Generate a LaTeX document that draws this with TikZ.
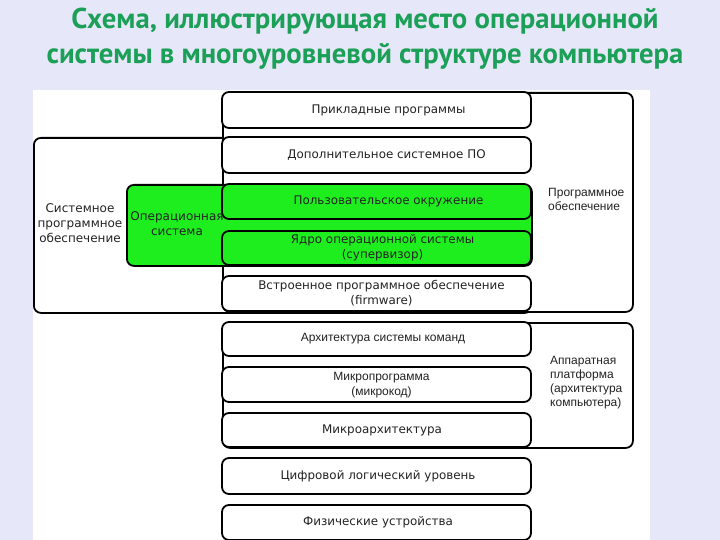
\documentclass[tikz,border=0pt]{standalone}
\usepackage{fontspec}
\setmainfont{DejaVu Sans}
\newfontfamily\titlefont{PT Sans}
\newfontfamily\arialfont{Liberation Sans}
\definecolor{bgcol}{RGB}{230,232,250}
\definecolor{titlecol}{RGB}{28,160,88}
\definecolor{oscol}{RGB}{30,238,30}
\definecolor{txtcol}{RGB}{35,35,35}
\tikzset{
  lvl/.style={draw=black, line width=1.8pt, rounded corners=7pt, fill=white,
    minimum width=309pt, inner sep=0pt, align=center, text=txtcol,
    font=\fontsize{11.9}{15}\selectfont},
  greenlvl/.style={lvl, fill=oscol},
  bigbox/.style={draw=black, line width=1.8pt, rounded corners=7pt, inner sep=0pt},
  lbl/.style={text=txtcol, inner sep=0pt, align=center, font=\fontsize{12}{15}\selectfont},
  rlbl/.style={text=txtcol, inner sep=0pt, align=left, font=\arialfont\fontsize{12}{14}\selectfont},
  tline/.style={text=titlecol, inner sep=0pt, font=\titlefont\bfseries\fontsize{28.7}{35}\selectfont}
}
\begin{document}
\begin{tikzpicture}[x=1pt,y=-1pt]
\useasboundingbox (0,0) rectangle (720,540);
\fill[bgcol] (0,0) rectangle (720,540);
\fill[white] (33,90) rectangle (650,540);
% title
\node[tline] (title1) at (365,21) {Схема, иллюстрирующая место операционной};
\node[tline] (title2) at (365,56) {системы в многоуровневой структуре компьютера};
% big boxes
\node[bigbox, fill=white, anchor=north west, minimum width=498pt, minimum height=175pt] (sys) at (33,137) {};
\node[bigbox, fill=white, anchor=north west, minimum width=410pt, minimum height=219pt] (prog) at (222,92) {};
\node[bigbox, fill=oscol, anchor=north west, minimum width=405pt, minimum height=81pt] (os) at (126,184) {};
\node[bigbox, fill=white, anchor=north west, minimum width=410pt, minimum height=125pt] (hw) at (222,322) {};
% level boxes
\node[lvl, minimum height=36pt] (app) at (376.5,110) {\hspace*{24pt}\raisebox{-2pt}{Прикладные программы}};
\node[lvl, minimum height=36pt] (addsys) at (376.5,155) {\hspace*{20pt}\raisebox{-1pt}{Дополнительное системное ПО}};
\node[greenlvl, minimum height=35pt] (userenv) at (376.5,201.5) {\hspace*{24pt}Пользовательское окружение};
\node[greenlvl, minimum height=34pt] (kernel) at (376.5,248) {\hspace*{12pt}\begin{tabular}{@{}c@{}}Ядро операционной системы\\(супервизор)\end{tabular}};
\node[lvl, minimum height=35pt] (firmware) at (376.5,293.5) {\hspace*{10pt}\begin{tabular}{@{}c@{}}Встроенное программное обеспечение\\(firmware)\end{tabular}};
\node[lvl, minimum height=34pt, font=\arialfont\fontsize{12}{15}\selectfont] (isa) at (376.5,339) {\hspace*{13pt}Архитектура системы команд};
\node[lvl, minimum height=35pt, font=\arialfont\fontsize{12}{15}\selectfont] (micro) at (376.5,384.5) {\hspace*{10pt}\begin{tabular}{@{}c@{}}Микропрограмма\\(микрокод)\end{tabular}};
\node[lvl, minimum height=34pt] (uarch) at (376.5,430) {\hspace*{11pt}Микроархитектура};
\node[lvl, minimum height=36pt] (digital) at (376.5,476) {\hspace*{3pt}Цифровой логический уровень};
\node[lvl, minimum height=35pt] (phys) at (376.5,522.5) {\hspace*{3pt}Физические устройства};
% labels
\node[lbl] (syslbl) at (80,223) {Системное\\программное\\обеспечение};
\node[lbl] (oslbl) at (177,224) {Операционная\\система};
\node[rlbl, anchor=west] (proglbl) at (548,199) {Программное\\обеспечение};
\node[rlbl, anchor=west] (hwlbl) at (550,383) {Аппаратная\\платформа\\(архитектура\\компьютера)};
\end{tikzpicture}
\end{document}
